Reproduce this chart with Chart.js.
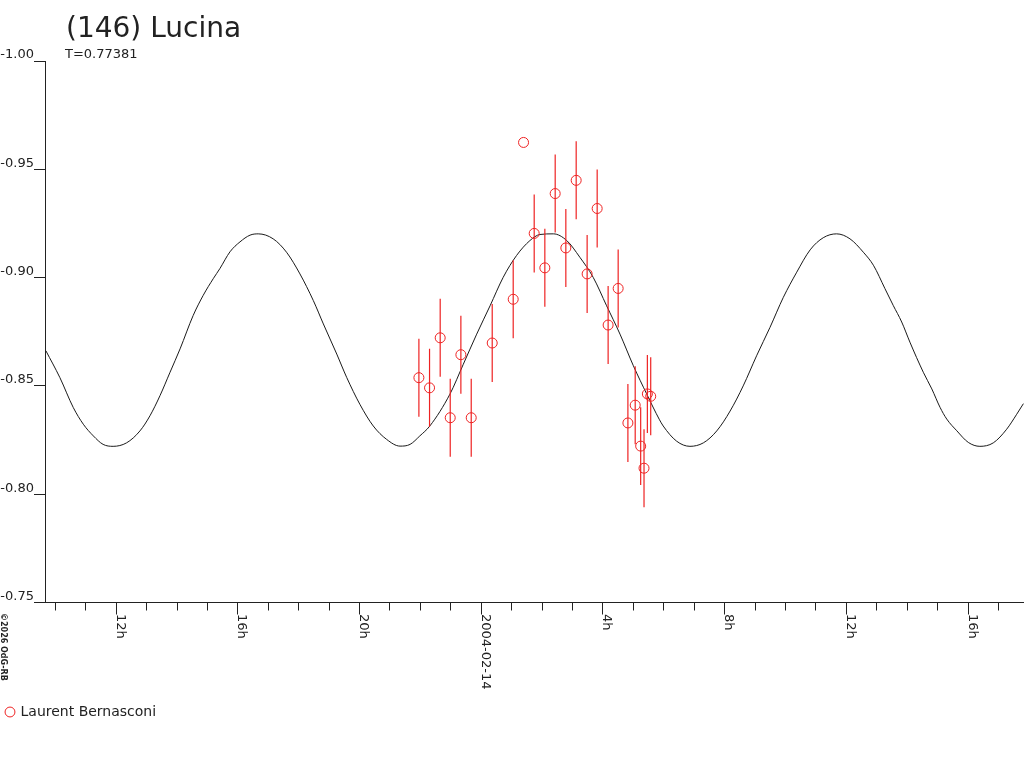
<!DOCTYPE html>
<html>
<head>
<meta charset="utf-8">
<script src="https://cdn.jsdelivr.net/npm/chart.js@4.4.1/dist/chart.umd.min.js"></script>
<style>
html,body{margin:0;padding:0;background:#fff;overflow:hidden}
#wrap{width:1024px;height:768px;position:relative;background:#fff}
canvas{display:block}
</style>
</head>
<body>
<div id="wrap"><canvas id="c" width="1024" height="768"></canvas></div>
<script>
// ---- texts ----
const titleText = '(146) Lucina';
const subtitleText = 'T=0.77381';
const observerName = 'Laurent Bernasconi';
const copyrightText = '\u00A92026 OdG-RB';

// ---- axes (hours relative to 2004-02-14 00:00, reduced magnitude) ----
const xMin = -14.34;
const xMax = 17.84;
const yMin = -1.00;
const yMax = -0.75;
const yTickValues = [-1.00, -0.95, -0.90, -0.85, -0.80, -0.75];
const majorTickHours = [-12, -8, -4, 0, 4, 8, 12, 16];
const majorTickLabels = ['12h', '16h', '20h', '2004-02-14', '4h', '8h', '12h', '16h'];
const minorTickHours = [-14,-13,-12,-11,-10,-9,-8,-7,-6,-5,-4,-3,-2,-1,0,1,2,3,4,5,6,7,8,9,10,11,12,13,14,15,16,17];

// ---- model lightcurve ----
const curveHours = [-14.31,-13.85,-13.41,-13.08,-12.75,-12.43,-12.10,-11.66,-11.22,-10.89,
  -10.56,-10.23,-9.90,-9.47,-9.14,-8.81,-8.59,-8.26,-7.93,-7.60,
  -7.33,-6.84,-6.40,-5.96,-5.52,-5.19,-4.75,-4.42,-3.99,-3.55,
  -3.11,-2.67,-2.34,-2.02,-1.69,-1.03,-0.59,-0.15,0.29,0.72,
  1.16,1.60,1.93,2.37,2.81,3.24,3.68,4.12,4.56,5.00,
  5.44,5.85,5.98,6.42,6.86,7.30,7.74,8.18,8.61,9.05,
  9.49,9.93,10.37,10.81,11.24,11.68,12.12,12.56,12.89,13.27,
  13.54,13.82,14.09,14.53,14.81,15.08,15.30,15.63,16.01,16.39,
  16.83,17.27,17.60,17.82];
const curveMags = [-0.8662,-0.8538,-0.8400,-0.8323,-0.8269,-0.8230,-0.8221,-0.8237,-0.8292,-0.8362,
  -0.8455,-0.8563,-0.8671,-0.8825,-0.8918,-0.8995,-0.9042,-0.9119,-0.9165,-0.9196,
  -0.9202,-0.9179,-0.9117,-0.9017,-0.8894,-0.8786,-0.8647,-0.8538,-0.8415,-0.8315,
  -0.8253,-0.8222,-0.8230,-0.8269,-0.8315,-0.8462,-0.8600,-0.8739,-0.8870,-0.9001,
  -0.9102,-0.9171,-0.9199,-0.9202,-0.9171,-0.9094,-0.9001,-0.8870,-0.8739,-0.8593,
  -0.8462,-0.8346,-0.8315,-0.8245,-0.8221,-0.8237,-0.8292,-0.8384,-0.8500,-0.8639,
  -0.8770,-0.8909,-0.9025,-0.9128,-0.9184,-0.9202,-0.9179,-0.9117,-0.9057,-0.8949,
  -0.8872,-0.8795,-0.8702,-0.8563,-0.8486,-0.8401,-0.8347,-0.8293,-0.8239,-0.8221,
  -0.8237,-0.8300,-0.8369,-0.8418];

// ---- observations (Laurent Bernasconi) ----
const obsHours = [-2.05,-1.70,-1.35,-1.02,-0.67,-0.33,0.36,1.05,1.39,1.74,2.09,2.43,
  2.78,3.12,3.48,3.81,4.17,4.50,4.82,5.06,5.24,5.35,5.46,5.57];
const obsMags = [-0.8538,-0.8491,-0.8722,-0.8353,-0.8644,-0.8353,-0.8698,-0.8900,-0.9624,-0.9204,-0.9045,-0.9388,
  -0.9137,-0.9449,-0.9017,-0.9319,-0.8781,-0.8950,-0.8329,-0.8411,-0.8222,-0.8120,-0.8463,-0.8452];
const obsErrs = [0.018,0.018,0.018,0.018,0.018,0.018,0.018,0.018,0,0.018,0.018,0.018,
  0.018,0.018,0.018,0.018,0.018,0.018,0.018,0.018,0.018,0.018,0.018,0.018];

// ---- build library data ----
const curvePoints = curveHours.map((h, i) => ({x: h, y: curveMags[i]}));
const obsPoints = obsHours.map((h, i) => ({x: h, y: obsMags[i]}));
const errorBarPoints = [];
obsHours.forEach((h, i) => {
  if (obsErrs[i] > 0) {
    errorBarPoints.push({x: h, y: obsMags[i] - obsErrs[i]});
    errorBarPoints.push({x: h, y: obsMags[i] + obsErrs[i]});
    errorBarPoints.push({x: h, y: null});
  }
});

const RED = '#ee2222';
const INK = '#222222';
const FONT = '"DejaVu Sans", "Liberation Sans", sans-serif';

const textPlugin = {
  id: 'extraTexts',
  afterDraw(chart) {
    const ctx = chart.ctx;
    const sx = chart.scales.x2;
    ctx.save();
    ctx.fillStyle = INK;
    ctx.textAlign = 'left';
    ctx.textBaseline = 'alphabetic';
    ctx.font = '28px ' + FONT;
    ctx.fillText(titleText, 66, 37);
    ctx.font = '13px ' + FONT;
    ctx.fillText(subtitleText, 65, 58);
    majorTickHours.forEach((h, i) => {
      const px = sx.getPixelForValue(h);
      ctx.save();
      ctx.translate(px + 0.5, 614);
      ctx.rotate(Math.PI / 2);
      ctx.fillText(majorTickLabels[i], 0, 0);
      ctx.restore();
    });
    ctx.font = 'bold 8px ' + FONT;
    ctx.save();
    ctx.translate(1, 613);
    ctx.rotate(Math.PI / 2);
    ctx.fillText(copyrightText, 0, 0);
    ctx.restore();
    ctx.restore();
  }
};

new Chart(document.getElementById('c'), {
  type: 'scatter',
  data: {
    datasets: [
      {
        label: observerName,
        data: obsPoints,
        showLine: false,
        pointStyle: 'circle',
        pointRadius: 5,
        pointHoverRadius: 5,
        pointBorderWidth: 1,
        pointBorderColor: RED,
        pointBackgroundColor: 'rgba(0,0,0,0)',
        borderColor: RED,
        backgroundColor: 'rgba(0,0,0,0)',
        xAxisID: 'x', yAxisID: 'y'
      },
      {
        label: 'errors',
        type: 'line',
        data: errorBarPoints,
        showLine: true,
        spanGaps: false,
        borderColor: RED,
        borderWidth: 1.2,
        pointRadius: 0,
        tension: 0,
        fill: false,
        xAxisID: 'x', yAxisID: 'y'
      },
      {
        label: 'model',
        type: 'line',
        data: curvePoints,
        borderColor: '#1a1a1a',
        borderWidth: 1,
        pointRadius: 0,
        tension: 0.4,
        cubicInterpolationMode: 'monotone',
        fill: false,
        xAxisID: 'x', yAxisID: 'y'
      }
    ]
  },
  options: {
    responsive: false,
    animation: false,
    devicePixelRatio: 1,
    layout: {autoPadding: false, padding: {top: 61, left: 0, right: 0, bottom: 39}},
    plugins: {
      legend: {
        position: 'bottom',
        align: 'start',
        labels: {
          usePointStyle: true,
          boxWidth: 7,
          boxHeight: 7,
          padding: 6.5,
          color: INK,
          font: {family: FONT, size: 14},
          filter: item => item.text === observerName
        }
      },
      tooltip: {enabled: false},
      title: {display: false}
    },
    scales: {
      x: {
        type: 'linear', axis: 'x', position: 'bottom', weight: 0,
        min: xMin, max: xMax,
        afterBuildTicks: s => { s.ticks = minorTickHours.map(v => ({value: v})); },
        afterFit: s => { s.height = 0; },
        ticks: {display: false},
        grid: {drawOnChartArea: false, drawTicks: true, tickLength: 8, tickColor: INK, tickWidth: 1},
        border: {display: true, color: INK, width: 1}
      },
      x2: {
        type: 'linear', axis: 'x', position: 'bottom', weight: 1,
        min: xMin, max: xMax,
        afterBuildTicks: s => { s.ticks = majorTickHours.map(v => ({value: v})); },
        afterFit: s => { s.height = 96; },
        ticks: {display: false},
        grid: {drawOnChartArea: false, drawTicks: true, tickLength: 12, tickColor: INK, tickWidth: 1},
        border: {display: false}
      },
      y: {
        type: 'linear', position: 'left', reverse: true,
        min: yMin, max: yMax,
        afterBuildTicks: s => { s.ticks = yTickValues.map(v => ({value: v})); },
        afterFit: s => { s.width = 45; },
        ticks: {
          callback: v => Number(v).toFixed(2),
          padding: 0,
          labelOffset: -6,
          color: INK,
          font: {family: FONT, size: 13}
        },
        grid: {drawOnChartArea: false, drawTicks: true, tickLength: 11, tickColor: INK, tickWidth: 1},
        border: {display: true, color: INK, width: 1}
      }
    }
  },
  plugins: [textPlugin]
});
</script>
</body>
</html>
